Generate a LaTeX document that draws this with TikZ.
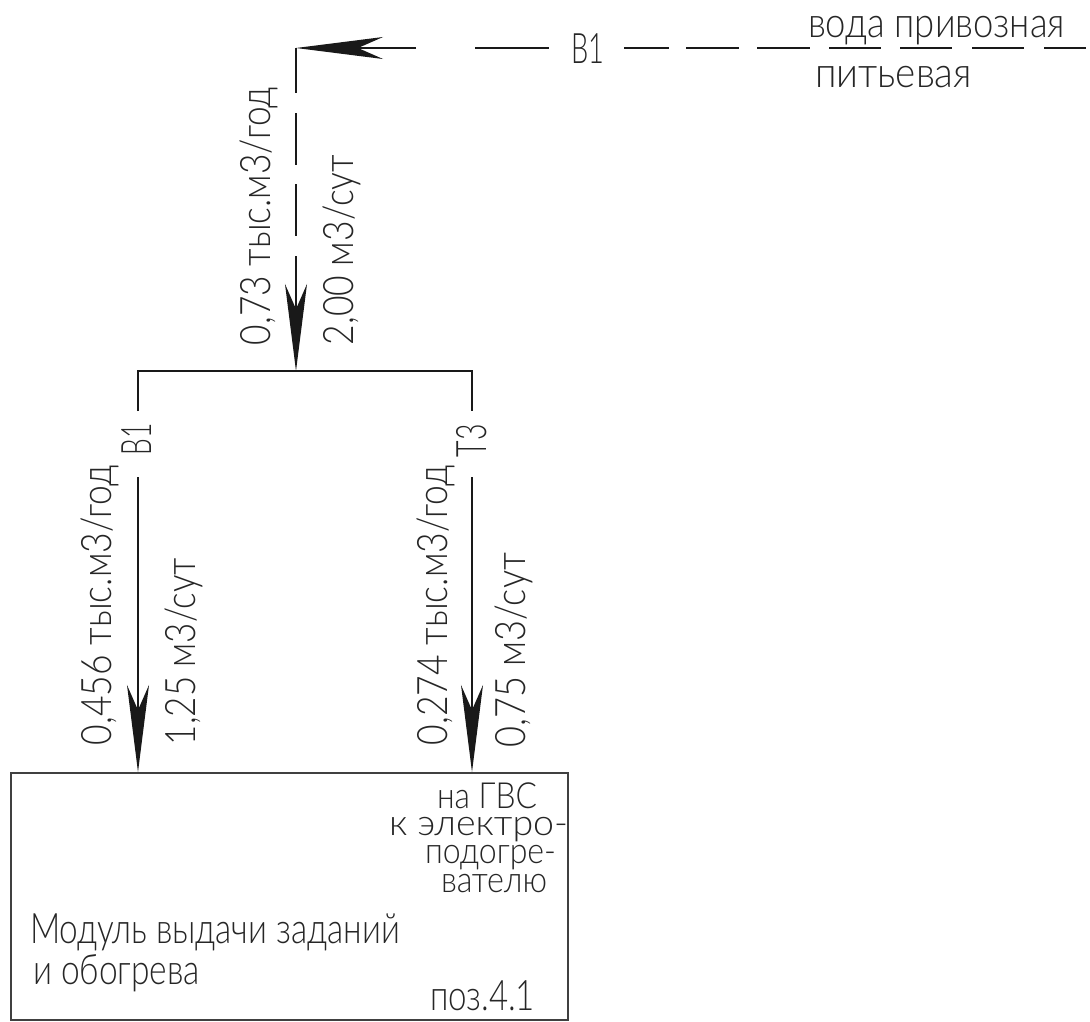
\documentclass[tikz,border=0pt]{standalone}
\usepackage{graphicx}
\usepackage{fontspec}
\setmainfont{Lato Light}
\usetikzlibrary{arrows.meta}
\tikzset{
  x=1pt,y=-1pt,
  pipe/.style={draw=black!90,line width=1.5pt},
  boxline/.style={draw=black!75,line width=1.8pt},
  headA/.style={-{Stealth[length=87pt,width=22pt,inset=25pt]}},
  lbl/.style={inner sep=0pt,outer sep=0pt,anchor=base west,text=black!85,font=\fontsize{42}{42}\selectfont},
  lblsm/.style={lbl,font=\fontsize{36}{36}\selectfont},
  vlbl/.style={lbl,rotate=90},
}
\newcommand{\fw}[2]{\resizebox{#1pt}{\height}{#2}}
\begin{document}
\begin{tikzpicture}
\useasboundingbox (0,0) rectangle (1090,1021);
\fill[white] (0,0) rectangle (1090,1021);
% equipment box
\node[boxline,draw,minimum width=557pt,minimum height=247pt,inner sep=0pt,anchor=north west] (box) at (10,772) {};
% key points
\coordinate (corner) at (296,48);
\coordinate (split) at (296,371);
\coordinate (busL) at (138,371);
\coordinate (busR) at (472,371);
\coordinate (inEnd) at (416,48);
\coordinate (inL) at (138,772);
\coordinate (inR) at (472,772);
\coordinate (gapLa) at (138,411);
\coordinate (gapLb) at (138,477);
\coordinate (gapRa) at (472,411);
\coordinate (gapRb) at (472,477);
\coordinate (v1a) at (296,93);
\coordinate (v2a) at (296,113);
\coordinate (v2b) at (296,165);
\coordinate (v3a) at (296,184);
\coordinate (v3b) at (296,236);
\coordinate (v4a) at (296,256);
% incoming line
\draw[pipe,headA] (inEnd) -- (corner);
\foreach \a/\b [count=\i] in {475/549,624/669,686/739,757/810,829/881,900/952,972/1024,1044/1086}{
  \coordinate (da\i) at (\a,48);
  \coordinate (db\i) at (\b,48);
  \draw[pipe] (da\i) -- (db\i);
}
% vertical dashed riser
\draw[pipe] (corner) -- (v1a);
\draw[pipe] (v2a) -- (v2b);
\draw[pipe] (v3a) -- (v3b);
\draw[pipe,headA] (v4a) -- (split);
% distribution
\draw[pipe] (gapLa) -- (busL) -- (busR) -- (gapRa);
\draw[pipe,headA] (gapLb) -- (inL);
\draw[pipe,headA] (gapRb) -- (inR);
% horizontal labels
\node[lbl] (t1) at (571,63) {\fw{33}{В1}};
\node[lbl] (t2) at (808,37) {\fw{257}{вода привозная}};
\node[lbl] (t3) at (815,87) {\fw{157}{питьевая}};
% vertical labels
\node[vlbl] (t4) at (270,345) {\fw{258}{0,73 тыс.м3/год}};
\node[vlbl] (t5) at (353,345) {\fw{190}{2,00 м3/сут}};
\node[vlbl] (t6) at (151,455) {\fw{32}{В1}};
\node[vlbl] (t7) at (486,457) {\fw{33}{Т3}};
\node[vlbl] (t8) at (111,745) {\fw{280}{0,456 тыс.м3/год}};
\node[vlbl] (t9) at (195,745) {\fw{187}{1,25 м3/сут}};
\node[vlbl] (t10) at (447,745) {\fw{280}{0,274 тыс.м3/год}};
\node[vlbl] (t11) at (525,747) {\fw{194}{0,75 м3/сут}};
% box labels
\node[lblsm] (t12) at (437,808) {\fw{100}{на ГВС}};
\node[lblsm] (t13) at (389,835) {\fw{179}{к электро-}};
\node[lblsm] (t14) at (425,863) {\fw{131}{подогре-}};
\node[lblsm] (t15) at (441,892) {\fw{106}{вателю}};
\node[lbl] (t16) at (30,943) {\fw{370}{Модуль выдачи заданий}};
\node[lbl] (t17) at (33,984) {\fw{167}{и обогрева}};
\node[lbl] (t18) at (430,1010) {\fw{105}{поз.4.1}};
\end{tikzpicture}
\end{document}
